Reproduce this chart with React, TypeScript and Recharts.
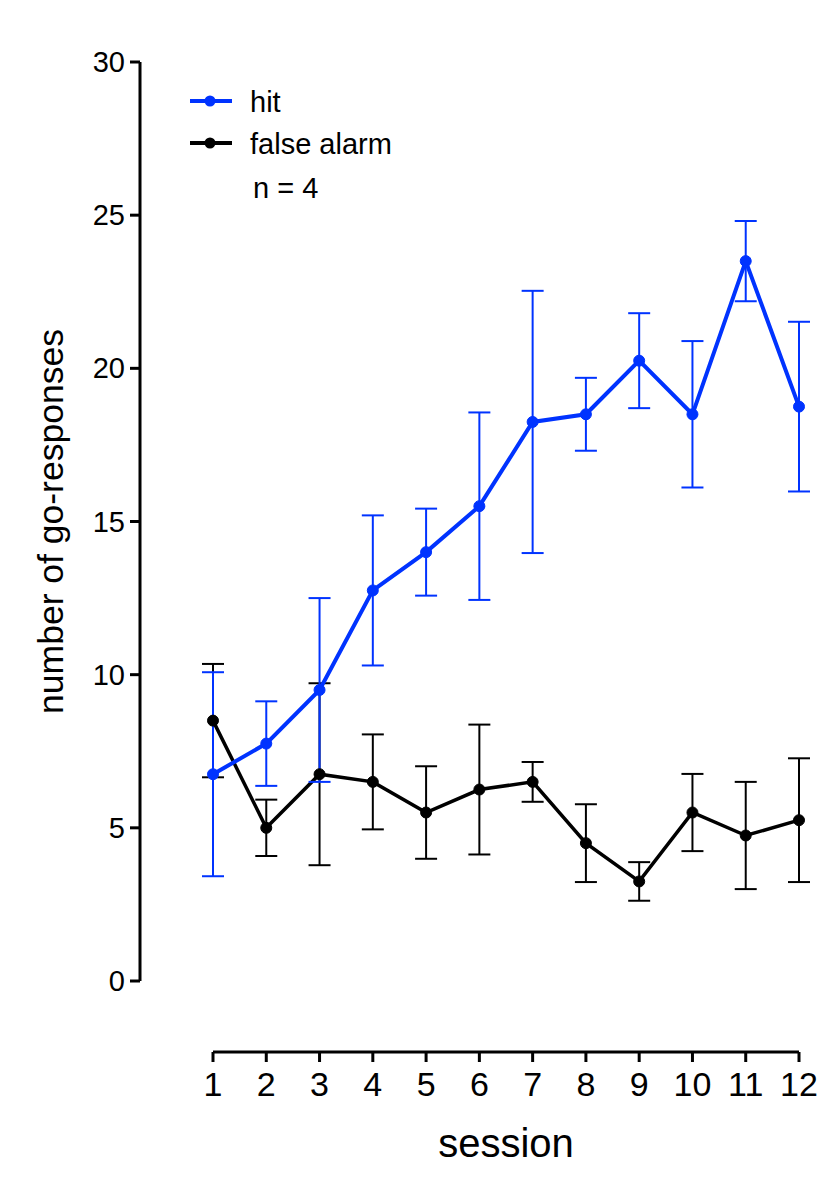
import * as React from "react";
import { LineChart, Line, XAxis, YAxis, ErrorBar, Legend, Label } from "recharts";

const SESSIONS = [1, 2, 3, 4, 5, 6, 7, 8, 9, 10, 11, 12];
const HIT_MEAN = [6.75, 7.75, 9.5, 12.75, 14, 15.5, 18.25, 18.5, 20.25, 18.5, 23.5, 18.75];
const HIT_ERR = [3.33, 1.38, 3.0, 2.45, 1.42, 3.06, 4.28, 1.19, 1.55, 2.39, 1.31, 2.77];
const FA_MEAN = [8.5, 5, 6.75, 6.5, 5.5, 6.25, 6.5, 4.5, 3.25, 5.5, 4.75, 5.25];
const FA_ERR = [1.85, 0.92, 2.97, 1.55, 1.51, 2.12, 0.65, 1.27, 0.63, 1.26, 1.75, 2.02];
const Y_TICKS = [0, 5, 10, 15, 20, 25, 30];
const LEGEND_ORDER = ["hit", "false alarm"];

const BLUE = "#0033ff";
const FONT = "'Liberation Sans', Arial, sans-serif";

const data = SESSIONS.map((session, i) => ({
  session,
  hit: HIT_MEAN[i],
  hitErr: HIT_ERR[i],
  fa: FA_MEAN[i],
  faErr: FA_ERR[i],
}));

function LegendBox({ payload }: any) {
  const items = [...(payload ?? [])].sort(
    (a: any, b: any) => LEGEND_ORDER.indexOf(a.value) - LEGEND_ORDER.indexOf(b.value)
  );
  return (
    <svg width={260} height={130} style={{ fontFamily: FONT }}>
      {items.map((p: any, i: number) => {
        const y = 21 + i * 42;
        return (
          <g key={p.value}>
            <line x1={5} x2={47} y1={y} y2={y} stroke={p.color} strokeWidth={4} />
            <circle cx={25} cy={y} r={5.5} fill={p.color} />
            <text x={65} y={y + 10.5} fontSize={29} fill="#000">
              {p.value}
            </text>
          </g>
        );
      })}
      <text x={68} y={118} fontSize={29} fill="#000">
        n = 4
      </text>
    </svg>
  );
}

function YTick({ x, y, payload }: any) {
  return (
    <text x={x} y={y + 10} textAnchor="end" fontSize={29} fontFamily={FONT} fill="#000">
      {payload.value}
    </text>
  );
}

function XTick({ x, y, payload }: any) {
  return (
    <text x={x} y={y + 24} textAnchor="middle" fontSize={34} fontFamily={FONT} fill="#000">
      {payload.value}
    </text>
  );
}

function YTitle({ viewBox }: any) {
  const cy = viewBox.y + viewBox.height / 2;
  return (
    <text
      x={63}
      y={cy}
      transform={`rotate(-90, 63, ${cy})`}
      textAnchor="middle"
      fontSize={35.5}
      fontFamily={FONT}
      fill="#000"
    >
      number of go-responses
    </text>
  );
}

function XTitle({ viewBox }: any) {
  return (
    <text
      x={viewBox.x + viewBox.width / 2}
      y={viewBox.y + 105}
      textAnchor="middle"
      fontSize={40}
      fontFamily={FONT}
      fill="#000"
    >
      session
    </text>
  );
}

export default function App() {
  const axisStroke = { stroke: "#000", strokeWidth: 3 };
  return (
    <div style={{ position: "absolute", left: 0, top: 0, width: 839, height: 1200, background: "#fff" }}>
      <div style={{ position: "absolute", left: 0, top: 0 }}>
        <LineChart
          width={839}
          height={1001}
          data={data}
          margin={{ top: 62, right: 19, bottom: 20, left: 0 }}
        >
          <XAxis
            dataKey="session"
            type="number"
            domain={[1, 12]}
            padding={{ left: 73, right: 21 }}
            hide
          />
          <YAxis
            type="number"
            domain={[0, 30]}
            ticks={Y_TICKS}
            interval={0}
            width={140}
            tickSize={10}
            tickMargin={5}
            axisLine={axisStroke}
            tickLine={axisStroke}
            tick={<YTick />}
          >
            <Label content={<YTitle />} />
          </YAxis>
          <Legend
            layout="vertical"
            align="center"
            verticalAlign="middle"
            wrapperStyle={{ top: 80, left: 185, width: 260 }}
            content={<LegendBox />}
          />
          <Line
            dataKey="fa"
            name="false alarm"
            stroke="#000"
            strokeWidth={3.5}
            dot={{ r: 5.5, fill: "#000", stroke: "#000", strokeWidth: 1 }}
            isAnimationActive={false}
          >
            <ErrorBar dataKey="faErr" direction="y" width={11} stroke="#000" strokeWidth={2} />
          </Line>
          <Line
            dataKey="hit"
            name="hit"
            stroke={BLUE}
            strokeWidth={4}
            dot={{ r: 5.5, fill: BLUE, stroke: BLUE, strokeWidth: 1 }}
            isAnimationActive={false}
          >
            <ErrorBar dataKey="hitErr" direction="y" width={11} stroke={BLUE} strokeWidth={2} />
          </Line>
        </LineChart>
      </div>
      <div style={{ position: "absolute", left: 0, top: 1000 }}>
        <LineChart
          width={839}
          height={200}
          data={data}
          margin={{ top: 10, right: 40, bottom: 0, left: 213 }}
        >
          <XAxis
            dataKey="session"
            type="number"
            domain={[1, 12]}
            ticks={SESSIONS}
            interval={0}
            height={148}
            tickSize={10}
            tickMargin={10}
            axisLine={axisStroke}
            tickLine={axisStroke}
            tick={<XTick />}
          >
            <Label content={<XTitle />} />
          </XAxis>
          <YAxis hide domain={[0, 30]} />
        </LineChart>
      </div>
    </div>
  );
}
